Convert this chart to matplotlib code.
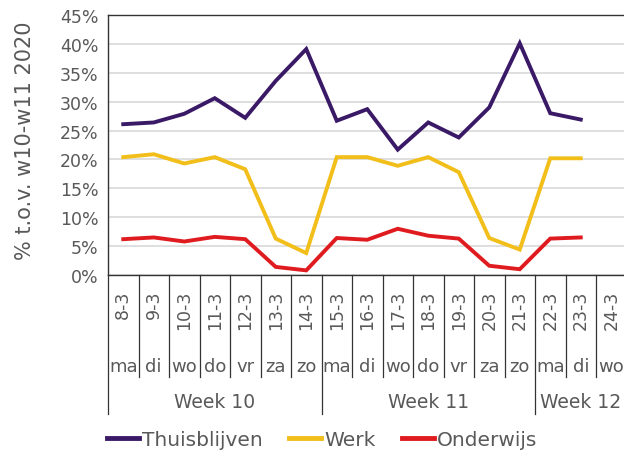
import numpy as np
import matplotlib
matplotlib.use("Agg")
import matplotlib.pyplot as plt
from matplotlib.lines import Line2D

# data (24-3 has no value yet)
dates = ['8-3', '9-3', '10-3', '11-3', '12-3', '13-3', '14-3', '15-3', '16-3',
         '17-3', '18-3', '19-3', '20-3', '21-3', '22-3', '23-3', '24-3']
days = ['ma', 'di', 'wo', 'do', 'vr', 'za', 'zo', 'ma', 'di', 'wo', 'do', 'vr',
        'za', 'zo', 'ma', 'di', 'wo']
weeks = ['Week 10', 'Week 11', 'Week 12']
week_start = [0, 7, 14]
week_end = [7, 14, 17]

thuisblijven = [26.1, 26.4, 27.9, 30.6, 27.2, 33.6, 39.1, 26.7, 28.7, 21.7,
                26.4, 23.8, 29.0, 40.1, 28.0, 26.9, np.nan]
werk = [20.4, 20.9, 19.3, 20.4, 18.3, 6.3, 3.8, 20.4, 20.4, 18.9,
        20.4, 17.8, 6.4, 4.4, 20.2, 20.2, np.nan]
onderwijs = [6.2, 6.5, 5.8, 6.6, 6.2, 1.4, 0.8, 6.4, 6.1, 8.0,
             6.8, 6.3, 1.6, 1.0, 6.3, 6.5, np.nan]

series = [('Thuisblijven', thuisblijven, '#3a1a66'),
          ('Werk', werk, '#f2be1a'),
          ('Onderwijs', onderwijs, '#e01b1f')]

W, H = 624, 452
grey = '#595959'
plt.rcParams['font.family'] = 'DejaVu Sans'

fig = plt.figure(figsize=(W / 100, H / 100), dpi=100)
ax = fig.add_axes([108 / W, 1 - 276 / H, (626.5 - 108) / W, 260 / H])

x = np.arange(len(dates))
for name, vals, col in series:
    ax.plot(x, vals, color=col, lw=2.8, solid_joinstyle='miter', zorder=3)

ax.set_xlim(-0.5, len(dates) - 0.5)
ax.set_ylim(0, 45)
ax.set_yticks(np.arange(0, 46, 5))
ax.set_yticklabels([f'{v}%' for v in range(0, 46, 5)])
ax.tick_params(axis='y', length=0, pad=7, labelsize=12.5, labelcolor=grey)
ax.set_xticks([])
ax.grid(axis='y', color='#dcdcdc', lw=1.3)
ax.set_axisbelow(True)
for s in ['top', 'left', 'bottom']:
    ax.spines[s].set_color('#333333')
    ax.spines[s].set_linewidth(1.0)
ax.spines['right'].set_visible(False)

# multi-level category axis below the plot
tr = ax.get_xaxis_transform()

def ay(py):
    # pixel row in the figure -> axes fraction
    return (276 - py) / 260.0

for i in range(len(dates)):
    ax.text(i, ay(291), dates[i], transform=tr, rotation=90, ha='center',
            va='top', fontsize=12.5, color=grey)
    ax.text(i, ay(367), days[i], transform=tr, ha='center', va='center',
            fontsize=13, color=grey)
for i in range(len(dates) + 1):
    bottom = ay(415) if i in week_start else ay(378)
    ax.plot([i - 0.5, i - 0.5], [0, bottom], transform=tr, color='#333333',
            lw=0.9, clip_on=False)

for name, a, b in zip(weeks, week_start, week_end):
    xc = (a + b - 1) / 2
    ax.text(xc, ay(403), name, transform=tr, ha='center', va='center',
            fontsize=13.5, color=grey)

fig.text(25 / W, 1 - 141 / H, '% t.o.v. w10-w11 2020', rotation=90,
         ha='center', va='center', fontsize=15, color=grey)

handles = [Line2D([0], [0], color=c, lw=3.5) for _, _, c in series]
leg = fig.legend(handles, [n for n, _, _ in series], loc='center left',
                 bbox_to_anchor=(107 / W, 1 - 441 / H), ncol=3, frameon=False,
                 fontsize=14.5, handlelength=1.6, handletextpad=0.15,
                 columnspacing=1.3, borderpad=0, borderaxespad=0)
for t in leg.get_texts():
    t.set_color(grey)

fig.savefig('out.png', dpi=100)
